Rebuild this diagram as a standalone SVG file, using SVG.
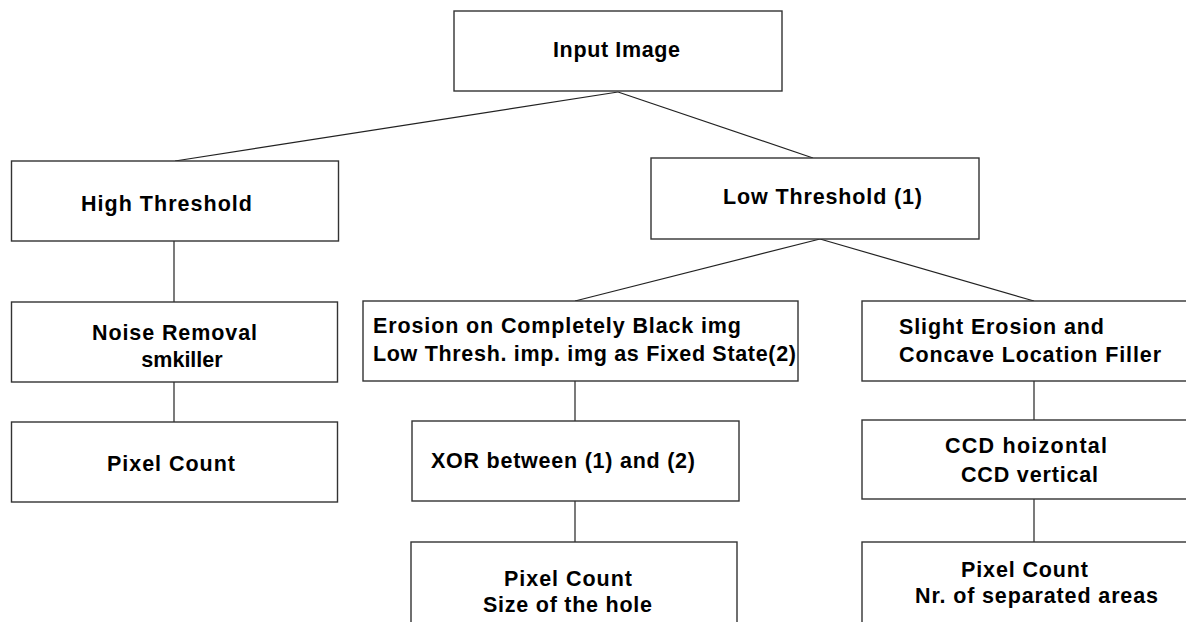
<svg xmlns="http://www.w3.org/2000/svg" width="1186" height="622" viewBox="0 0 1186 622">
<style>
.box{fill:#fff;stroke:#333;stroke-width:1.4}
.con{stroke:#222;stroke-width:1.2;fill:none}
text{font-family:"Liberation Sans",Arial,sans-serif;font-size:21.5px;font-weight:bold;fill:#000}
</style>
<rect width="1186" height="622" fill="#fff"/>
<g id="connectors">
<line class="con" x1="618" y1="92" x2="175" y2="161"/>
<line class="con" x1="618" y1="92" x2="813" y2="158"/>
<line class="con" x1="174" y1="241" x2="174" y2="302"/>
<line class="con" x1="174" y1="382" x2="174" y2="422"/>
<line class="con" x1="820" y1="239" x2="575" y2="301"/>
<line class="con" x1="820" y1="239" x2="1034" y2="301"/>
<line class="con" x1="575" y1="381" x2="575" y2="421"/>
<line class="con" x1="575" y1="501" x2="575" y2="542"/>
<line class="con" x1="1034" y1="381" x2="1034" y2="420"/>
<line class="con" x1="1034" y1="499" x2="1034" y2="542"/>
</g>
<g id="input-image">
<rect class="box" x="454" y="11" width="328" height="80"/>
<text x="553" y="57" textLength="127" lengthAdjust="spacing">Input Image</text>
</g>
<g id="high-threshold">
<rect class="box" x="11.5" y="161" width="327" height="80"/>
<text x="81" y="211" textLength="171" lengthAdjust="spacing">High Threshold</text>
</g>
<g id="noise-removal">
<rect class="box" x="11.5" y="302" width="326" height="80"/>
<text x="92" y="340" textLength="165" lengthAdjust="spacing">Noise Removal</text>
<text x="182" y="367" text-anchor="middle">smkiller</text>
</g>
<g id="pixel-count-left">
<rect class="box" x="11.5" y="422" width="326" height="80"/>
<text x="107" y="471" textLength="128" lengthAdjust="spacing">Pixel Count</text>
</g>
<g id="low-threshold">
<rect class="box" x="651" y="158" width="328" height="81"/>
<text x="723" y="204" textLength="199" lengthAdjust="spacing">Low Threshold (1)</text>
</g>
<g id="erosion">
<rect class="box" x="363" y="301" width="435" height="80"/>
<text x="373" y="333" textLength="368" lengthAdjust="spacing">Erosion on Completely Black img</text>
<text x="373" y="361" textLength="423" lengthAdjust="spacing">Low Thresh. imp. img as Fixed State(2)</text>
</g>
<g id="xor">
<rect class="box" x="412" y="421" width="327" height="80"/>
<text x="431" y="468" textLength="264" lengthAdjust="spacing">XOR between (1) and (2)</text>
</g>
<g id="pixel-count-middle">
<rect class="box" x="411" y="542" width="326" height="100"/>
<text x="504" y="586" textLength="128" lengthAdjust="spacing">Pixel Count</text>
<text x="483" y="612" textLength="169" lengthAdjust="spacing">Size of the hole</text>
</g>
<g id="slight-erosion">
<rect class="box" x="862" y="301" width="340" height="80"/>
<text x="899" y="334" textLength="205" lengthAdjust="spacing">Slight Erosion and</text>
<text x="899" y="362" textLength="262" lengthAdjust="spacing">Concave Location Filler</text>
</g>
<g id="ccd">
<rect class="box" x="862" y="420" width="340" height="79"/>
<text x="945" y="453" textLength="162" lengthAdjust="spacing">CCD hoizontal</text>
<text x="961" y="482" textLength="137" lengthAdjust="spacing">CCD vertical</text>
</g>
<g id="pixel-count-right">
<rect class="box" x="862" y="542" width="340" height="100"/>
<text x="961" y="577" textLength="127" lengthAdjust="spacing">Pixel Count</text>
<text x="915" y="603" textLength="243" lengthAdjust="spacing">Nr. of separated areas</text>
</g>
</svg>
